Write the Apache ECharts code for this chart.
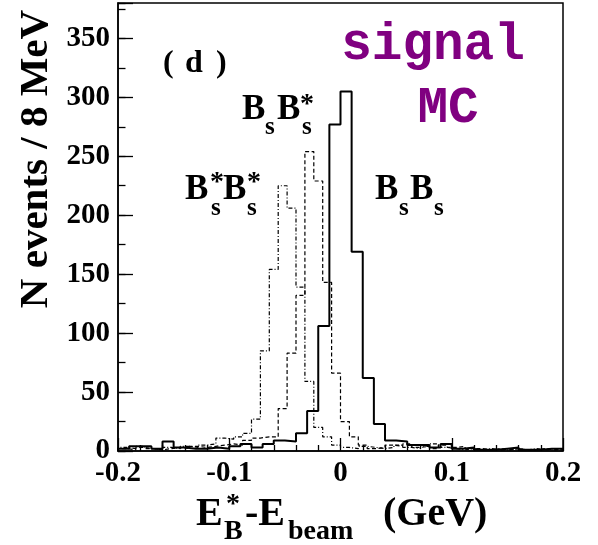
<!DOCTYPE html>
<html><head><meta charset="utf-8">
<script src="https://cdn.jsdelivr.net/npm/echarts@6/dist/echarts.min.js"></script>
<style>html,body{margin:0;padding:0;background:#fff}#c{width:598px;height:545px}</style>
</head><body><div id="c"></div>
<script>
// ---- data ----
const X_MIN = -0.2, X_MAX = 0.2;
const Y_MAX = 380;
const xTickLabels = [-0.2, -0.1, 0, 0.1, 0.2];
const yTickLabels = [0, 50, 100, 150, 200, 250, 300, 350];
const binWidthBsBs = 0.010;  // GeV (solid)
const binWidthStar = 0.008;  // GeV (dashed / dash-dot)
const countsBsBs = [2,4,4,2,8,3,2,2,3,2,4,6,3,6,9,8,15,34,106,277,305,169,62,23,9,8,5,5,3,6,2,3,1,1,2,3,1,1,2,2];
const countsBsBsStar = [2,1,3,2,1,2,3,2,4,3,4,5,6,5,9,11,12,12,36,83,132,254,229,143,66,25,12,5,2,3,5,4,6,3,4,2,5,3,4,2,2,1,2,1,2,1,1,2,1,1];
const countsBsStarBsStar = [3,2,4,2,1,3,2,4,3,5,6,11,10,12,15,27,85,154,225,206,139,59,20,12,5,3,2,4,3,2,3,5,3,2,4,6,3,2,1,2,1,2,1,1,2,1,2,1,1,2];

function histPoints(counts, w) {
  const pts = [[X_MIN, 0]];
  counts.forEach((c, i) => {
    const lo = +(X_MIN + i * w).toFixed(4), hi = +(X_MIN + (i + 1) * w).toFixed(4);
    pts.push([lo, c], [hi, c]);
  });
  pts.push([+(X_MIN + counts.length * w).toFixed(4), 0]);
  return pts;
}

const SERIF = "'Liberation Serif','Times New Roman',serif";
const MONO = "'Liberation Mono','Courier New',monospace";
function txt(str, x, base, size, opt) {
  opt = opt || {};
  const fam = opt.mono ? MONO : SERIF;
  const k = opt.mono ? 0.267 : 0.3375;
  const align = opt.align || 'left';
  return {
    type: 'text', x: x, y: base - k * size, z: 100,
    style: {
      text: str, fill: opt.color || '#000',
      font: 'bold ' + size + 'px ' + fam,
      textAlign: align, align: align,
      textVerticalAlign: 'middle', verticalAlign: 'middle'
    }
  };
}

const chart = echarts.init(document.getElementById('c'), null, {renderer: 'canvas'});
const tickStyle = {color: '#000', width: 1.3};
chart.setOption({
  animation: false,
  grid: {left: 118, right: 35, top: 3, bottom: 94, show: true, borderColor: '#000', borderWidth: 1.5, backgroundColor: 'transparent'},
  xAxis: {
    type: 'value', min: X_MIN, max: X_MAX, interval: 0.1,
    axisLine: {show: true, onZero: false, lineStyle: {color: '#000', width: 1.5}},
    axisTick: {show: true, inside: true, length: 13, lineStyle: tickStyle},
    minorTick: {show: true, splitNumber: 5, length: 6, lineStyle: tickStyle},
    splitLine: {show: false},
    axisLabel: {
      margin: 8, color: '#000', fontFamily: SERIF, fontWeight: 'bold', fontSize: 29,
      formatter: v => {
        const m = xTickLabels.find(t => Math.abs(t - v) < 1e-6);
        return m === undefined ? '' : String(m);
      }
    }
  },
  yAxis: [{
    type: 'value', min: 0, max: Y_MAX, interval: 50,
    axisLine: {show: true, onZero: false, lineStyle: {color: '#000', width: 1.5}},
    axisTick: {show: true, inside: true, length: 15, lineStyle: tickStyle},
    splitLine: {show: false},
    axisLabel: {
      margin: 8, color: '#000', fontFamily: SERIF, fontWeight: 'bold', fontSize: 29,
      formatter: v => yTickLabels.indexOf(v) >= 0 ? String(v) : ''
    }
  }, {
    type: 'value', min: 0, max: Y_MAX, interval: 25, position: 'left',
    axisLine: {show: false, onZero: false}, axisLabel: {show: false}, splitLine: {show: false},
    axisTick: {show: true, inside: true, length: 7.5, lineStyle: tickStyle}
  }],
  series: [
    {type: 'line', name: 'BsBs', data: histPoints(countsBsBs, binWidthBsBs), symbol: 'none',
     lineStyle: {color: '#000', width: 2}, z: 3},
    {type: 'line', name: 'BsBs*', data: histPoints(countsBsBsStar, binWidthStar), symbol: 'none',
     lineStyle: {color: '#000', width: 1.2, type: [4, 2.5]}, z: 2},
    {type: 'line', name: 'Bs*Bs*', data: histPoints(countsBsStarBsStar, binWidthStar), symbol: 'none',
     lineStyle: {color: '#000', width: 1.2, type: [4, 2, 1, 2]}, z: 2}
  ],
  graphic: [
    // panel tag
    txt('(', 163, 75, 32), txt('d', 185, 75, 32), txt(')', 216, 75, 32),
    // signal MC
    txt('signal', 433, 60, 51, {mono: true, align: 'center', color: '#800080'}),
    txt('MC', 448, 123, 51, {mono: true, align: 'center', color: '#800080'}),
    // BsBs* label
    txt('B', 242, 122, 35), txt('s', 265, 136, 25), txt('B', 277, 122, 35),
    txt('*', 300, 114, 28), txt('s', 302, 136, 25),
    // Bs*Bs* label
    txt('B', 185, 202, 35), txt('*', 210, 192, 28), txt('s', 211, 217, 25),
    txt('B', 223, 202, 35), txt('*', 247, 192, 28), txt('s', 247, 217, 25),
    // BsBs label
    txt('B', 375, 202, 35), txt('s', 399, 217, 25), txt('B', 410, 202, 35), txt('s', 434, 217, 25),
    // y axis title
    {type: 'text', x: 36, y: 159, rotation: Math.PI / 2, z: 100,
     style: {text: 'N events / 8 MeV', fill: '#000', font: 'bold 41px ' + SERIF,
             textAlign: 'center', align: 'center', textVerticalAlign: 'middle', verticalAlign: 'middle'}},
    // x axis title
    txt('E', 196, 528, 40), txt('*', 226, 514, 28), txt('B', 224, 541, 28),
    txt('-E', 245, 528, 40), txt('beam', 288, 541, 28), txt('(GeV)', 383, 528, 40)
  ]
});
</script></body></html>
